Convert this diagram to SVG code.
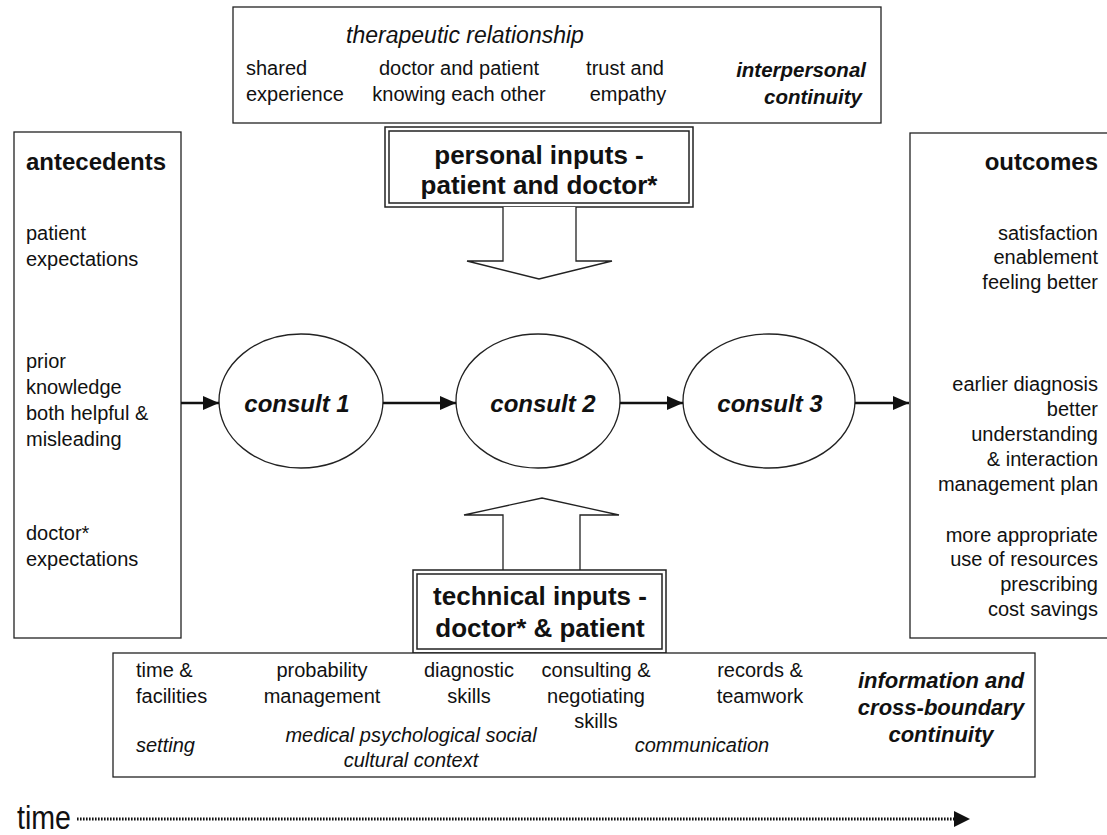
<svg xmlns="http://www.w3.org/2000/svg" width="1107" height="835" viewBox="0 0 1107 835">
<style>
text{font-family:"Liberation Sans",Arial,sans-serif;fill:#111}
.b{font-size:20px}
.i{font-size:20px;font-style:italic}
.ih{font-size:23px;font-style:italic}
.bi{font-size:22px;font-weight:bold;font-style:italic}
.bi2{font-size:20.5px;font-weight:bold;font-style:italic}
.bt{font-size:26px;font-weight:bold}
.h{font-size:24px;font-weight:bold}
.c{font-size:24px;font-weight:bold;font-style:italic}
.m{text-anchor:middle}
.e{text-anchor:end}
.box{fill:#fff;stroke:#222;stroke-width:1.3}
.dbl{fill:none;stroke:#222;stroke-width:1.5}
.node{fill:#fff;stroke:#222;stroke-width:1.3}
.conn{stroke:#111;stroke-width:2.6;fill:none}
.bigarrow{fill:#fff;stroke:#222;stroke-width:1.3}
</style>
<defs>
<marker id="ah" markerWidth="16" markerHeight="14" refX="16" refY="7" orient="auto" markerUnits="userSpaceOnUse">
<path d="M0,0 L16,7 L0,14 Z" fill="#111"/>
</marker>
</defs>
<rect width="1107" height="835" fill="#fff"/>

<g id="interpersonal">
<rect class="box" x="233" y="7" width="648" height="116"/>
<text class="ih m" x="465" y="43">therapeutic relationship</text>
<text class="b" x="246" y="75">shared</text>
<text class="b" x="246" y="101">experience</text>
<text class="b m" x="459" y="75">doctor and patient</text>
<text class="b m" x="459" y="101">knowing each other</text>
<text class="b m" x="625" y="75">trust and</text>
<text class="b m" x="628" y="101">empathy</text>
<text class="bi2 e" x="866" y="77">interpersonal</text>
<text class="bi2 e" x="862" y="104">continuity</text>
</g>

<g id="personal">
<rect class="dbl" x="385" y="127" width="308" height="80"/>
<rect class="dbl" x="389" y="131" width="300" height="72"/>
<text class="bt m" x="539" y="164">personal inputs -</text>
<text class="bt m" x="539" y="194">patient and doctor*</text>
</g>

<g id="personal-arrow">
<path class="bigarrow" d="M503,207 L503,261 L467,261 L539,279 L612,261 L576,261 L576,207"/>
</g>

<g id="antecedents">
<rect class="box" x="14" y="132" width="167" height="506"/>
<text class="h" x="26" y="170">antecedents</text>
<text class="b" x="26" y="240">patient</text>
<text class="b" x="26" y="266">expectations</text>
<text class="b" x="26" y="368">prior</text>
<text class="b" x="26" y="394">knowledge</text>
<text class="b" x="26" y="420">both helpful &amp;</text>
<text class="b" x="26" y="446">misleading</text>
<text class="b" x="26" y="540">doctor*</text>
<text class="b" x="26" y="566">expectations</text>
</g>

<g id="outcomes">
<rect class="box" x="910" y="133" width="210" height="505"/>
<text class="h e" x="1098" y="170">outcomes</text>
<text class="b e" x="1098" y="240">satisfaction</text>
<text class="b e" x="1098" y="264">enablement</text>
<text class="b e" x="1098" y="289">feeling better</text>
<text class="b e" x="1098" y="391">earlier diagnosis</text>
<text class="b e" x="1098" y="416">better</text>
<text class="b e" x="1098" y="441">understanding</text>
<text class="b e" x="1098" y="466">&amp; interaction</text>
<text class="b e" x="1098" y="491">management plan</text>
<text class="b e" x="1098" y="542">more appropriate</text>
<text class="b e" x="1098" y="566">use of resources</text>
<text class="b e" x="1098" y="591">prescribing</text>
<text class="b e" x="1098" y="616">cost savings</text>
</g>

<g id="consult1">
<ellipse class="node" cx="301" cy="401" rx="82" ry="67"/>
<text class="c m" x="297" y="412">consult 1</text>
</g>
<g id="consult2">
<ellipse class="node" cx="538" cy="401" rx="82" ry="67"/>
<text class="c m" x="543" y="412">consult 2</text>
</g>
<g id="consult3">
<ellipse class="node" cx="769" cy="401" rx="86" ry="67"/>
<text class="c m" x="770" y="412">consult 3</text>
</g>

<g id="connectors">
<line class="conn" x1="181" y1="403" x2="219" y2="403" marker-end="url(#ah)"/>
<line class="conn" x1="383" y1="403" x2="456" y2="403" marker-end="url(#ah)"/>
<line class="conn" x1="620" y1="403" x2="683" y2="403" marker-end="url(#ah)"/>
<line class="conn" x1="855" y1="403" x2="909" y2="403" marker-end="url(#ah)"/>
</g>

<g id="technical-arrow">
<path class="bigarrow" d="M503,570 L503,515 L464,515 L542,498 L619,515 L580,515 L580,570"/>
</g>

<g id="technical">
<rect class="dbl" x="413" y="570" width="253" height="83"/>
<rect class="dbl" x="417" y="574" width="245" height="75"/>
<text class="bt m" x="540" y="605">technical inputs -</text>
<text class="bt m" x="540" y="637">doctor* &amp; patient</text>
</g>

<g id="information">
<rect class="box" x="113" y="653" width="922" height="124"/>
<text class="b" x="136" y="677">time &amp;</text>
<text class="b" x="136" y="703">facilities</text>
<text class="i" x="136" y="752">setting</text>
<text class="b m" x="322" y="677">probability</text>
<text class="b m" x="322" y="703">management</text>
<text class="b m" x="469" y="677">diagnostic</text>
<text class="b m" x="469" y="703">skills</text>
<text class="b m" x="596" y="677">consulting &amp;</text>
<text class="b m" x="596" y="703">negotiating</text>
<text class="b m" x="596" y="728">skills</text>
<text class="b m" x="760" y="677">records &amp;</text>
<text class="b m" x="760" y="703">teamwork</text>
<text class="i m" x="411" y="742">medical psychological social</text>
<text class="i m" x="411" y="767">cultural context</text>
<text class="i m" x="702" y="752">communication</text>
<text class="bi m" x="941" y="688">information and</text>
<text class="bi m" x="941" y="715">cross-boundary</text>
<text class="bi m" x="941" y="742">continuity</text>
</g>

<g id="time-axis">
<text x="17" y="829" font-size="34" textLength="54" lengthAdjust="spacingAndGlyphs">time</text>
<line x1="77" y1="819" x2="956" y2="819" stroke="#111" stroke-width="3" stroke-dasharray="1.6,1.4"/>
<path d="M954,811 L970,819 L954,827 Z" fill="#111"/>
</g>
</svg>
